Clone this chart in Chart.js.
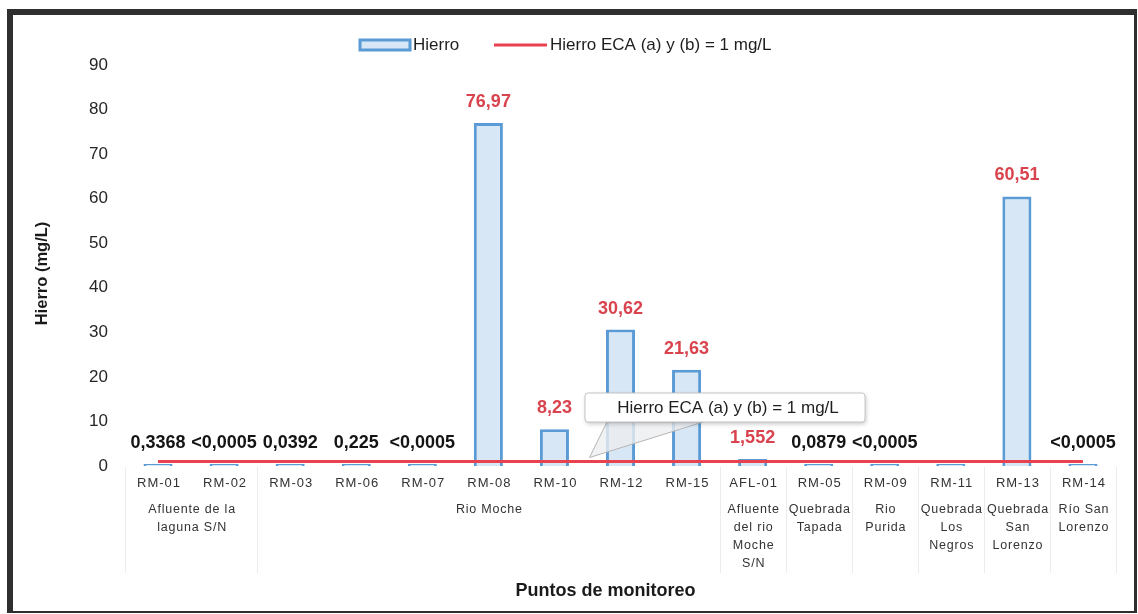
<!DOCTYPE html>
<html>
<head>
<meta charset="utf-8">
<title>Hierro</title>
<script src="https://cdn.jsdelivr.net/npm/chart.js@4/dist/chart.umd.min.js"></script>
<style>
  html, body { margin: 0; padding: 0; background: #ffffff; }
  canvas { display: block; }
</style>
</head>
<body>
<canvas id="chart" width="1138" height="614"></canvas>
<script>
// Monitoring points (in order along the x axis)
const categories = ["RM-01", "RM-02", "RM-03", "RM-06", "RM-07", "RM-08", "RM-10", "RM-12",
                    "RM-15", "AFL-01", "RM-05", "RM-09", "RM-11", "RM-13", "RM-14"];

// Iron concentration (mg/L); "<0,0005" results are plotted at the detection limit
const hierro = [0.3368, 0.0005, 0.0392, 0.225, 0.0005, 76.97, 8.23, 30.62,
                21.63, 1.552, 0.0879, 0.0005, 0.0005, 60.51, 0.0005];

// Value labels printed above each bar
const valueLabels = ["0,3368", "<0,0005", "0,0392", "0,225", "<0,0005", "76,97", "8,23", "30,62",
                     "21,63", "1,552", "0,0879", "<0,0005", "", "60,51", "<0,0005"];

// Environmental quality standard (ECA) for iron, mg/L
const eca = [1, 1, 1, 1, 1, 1, 1, 1, 1, 1, 1, 1, 1, 1, 1];
const ecaLimit = 1;

// Water body each group of points belongs to, and how many points it spans
const groupLabels = [
  ["Afluente de la", "laguna S/N"],
  ["Rio Moche"],
  ["Afluente", "del rio", "Moche", "S/N"],
  ["Quebrada", "Tapada"],
  ["Rio", "Purida"],
  ["Quebrada", "Los", "Negros"],
  ["Quebrada", "San", "Lorenzo"],
  ["Río San", "Lorenzo"]
];
const groupSpans = [2, 7, 1, 1, 1, 1, 1, 1];

// Y axis ticks
const yMin = 0, yMax = 90, yStep = 10;

const FONT = '"Liberation Sans", Arial, Helvetica, sans-serif';
const BLUE = '#5B9BD5';
const BLUE_FILL = '#D7E7F6';
const RED = '#E8414F';
const LABEL_RED = '#D9434E';

const decorations = {
  id: 'decorations',
  beforeDraw(chart) {
    const c = chart.ctx;
    c.save();
    c.fillStyle = '#ffffff';
    c.fillRect(0, 0, chart.width, chart.height);
    c.restore();
  },
  afterDatasetsDraw(chart) {
    const c = chart.ctx;
    const xs = chart.scales.x;
    const ys = chart.scales.y;
    const barMeta = chart.getDatasetMeta(0);

    // value labels above the bars
    c.save();
    c.font = 'bold 18px ' + FONT;
    c.textAlign = 'center';
    c.textBaseline = 'middle';
    barMeta.data.forEach((bar, i) => {
      const txt = valueLabels[i];
      if (!txt) return;
      c.fillStyle = hierro[i] > ecaLimit ? LABEL_RED : '#141414';
      c.fillText(txt, bar.x, bar.y - 21);
    });
    c.restore();

    // callout pointing at the ECA line
    const tipX = (xs.getPixelForValue(6) + xs.getPixelForValue(7)) / 2 + 2;
    const tipY = ys.getPixelForValue(ecaLimit) - 4;
    const bx = 585, by = 393, bw = 280, bh = 29;
    c.save();
    c.beginPath();
    c.moveTo(tipX, tipY);
    c.lineTo(bx + 22, by + bh);
    c.lineTo(bx + 118, by + bh);
    c.closePath();
    c.fillStyle = 'rgba(236,238,240,0.8)';
    c.fill();
    c.strokeStyle = '#b5b5b5';
    c.lineWidth = 1;
    c.stroke();

    c.shadowColor = 'rgba(0,0,0,0.22)';
    c.shadowBlur = 4;
    c.shadowOffsetX = 1;
    c.shadowOffsetY = 2;
    c.beginPath();
    c.roundRect(bx, by, bw, bh, 3);
    c.fillStyle = '#ffffff';
    c.fill();
    c.shadowColor = 'transparent';
    c.strokeStyle = '#c4c4c4';
    c.stroke();
    c.fillStyle = '#1e1e1e';
    c.font = '17px ' + FONT;
    c.textAlign = 'center';
    c.textBaseline = 'middle';
    c.fillText('Hierro ECA (a) y (b) = 1 mg/L', bx + bw / 2 + 3, by + bh / 2 + 1);
    c.restore();
  },
  afterDraw(chart) {
    const c = chart.ctx;
    const area = chart.chartArea;
    const xs = chart.scales.x;
    const slot = xs.getPixelForValue(1) - xs.getPixelForValue(0);

    c.save();
    // category codes
    c.fillStyle = '#333333';
    c.font = '13px ' + FONT;
    c.letterSpacing = '1px';
    c.textAlign = 'center';
    c.textBaseline = 'middle';
    categories.forEach((cat, i) => {
      c.fillText(cat, xs.getPixelForValue(i) + 1, 483);
    });

    // group separators and water body names
    c.strokeStyle = '#ececec';
    c.lineWidth = 1;
    let start = 0;
    const drawSep = (idx) => {
      const x = Math.round(xs.getPixelForValue(idx) - slot / 2) + 0.5;
      c.beginPath();
      c.moveTo(x, area.bottom + 1);
      c.lineTo(x, 573);
      c.stroke();
    };
    drawSep(0);
    c.font = '12.5px ' + FONT;
    c.letterSpacing = '0.8px';
    groupLabels.forEach((lines, g) => {
      const end = start + groupSpans[g] - 1;
      const cx = (xs.getPixelForValue(start) + xs.getPixelForValue(end)) / 2;
      lines.forEach((ln, k) => c.fillText(ln, cx + 1, 510 + k * 17.8));
      drawSep(end + 1);
      start = end + 1;
    });
    c.letterSpacing = '0px';

    // axis titles
    c.fillStyle = '#1a1a1a';
    c.font = 'bold 18px ' + FONT;
    c.fillText('Puntos de monitoreo', (area.left + area.right) / 2 - 15, 591);
    c.save();
    c.translate(42, (area.top + area.bottom) / 2 + 8);
    c.rotate(-Math.PI / 2);
    c.font = 'bold 16.5px ' + FONT;
    c.fillText('Hierro (mg/L)', 0, 0);
    c.restore();

    // legend
    c.fillStyle = BLUE_FILL;
    c.fillRect(360, 40, 50, 10);
    c.strokeStyle = BLUE;
    c.lineWidth = 3;
    c.strokeRect(360, 40, 50, 10);
    c.fillStyle = '#1e1e1e';
    c.font = '17px ' + FONT;
    c.textAlign = 'left';
    c.fillText('Hierro', 413, 45);
    c.strokeStyle = RED;
    c.lineWidth = 3;
    c.beginPath();
    c.moveTo(494, 45);
    c.lineTo(547, 45);
    c.stroke();
    c.fillText('Hierro ECA (a) y (b) = 1 mg/L', 550, 45);

    // frame
    c.fillStyle = '#2f2f2f';
    c.fillRect(7, 9, 1130, 6);
    c.fillRect(7, 9, 6, 604);
    c.fillRect(1134, 9, 3, 604);
    c.fillRect(7, 611, 1130, 2);
    c.restore();
  }
};

new Chart(document.getElementById('chart'), {
  data: {
    labels: categories,
    datasets: [
      {
        type: 'bar',
        label: 'Hierro',
        data: hierro,
        backgroundColor: BLUE_FILL,
        borderColor: BLUE,
        borderWidth: 3,
        minBarLength: 2,
        barPercentage: 0.44,
        categoryPercentage: 1,
        order: 2
      },
      {
        type: 'line',
        label: 'Hierro ECA (a) y (b) = 1 mg/L',
        data: eca,
        borderColor: RED,
        borderWidth: 3,
        pointRadius: 0,
        fill: false,
        order: 1
      }
    ]
  },
  options: {
    responsive: false,
    animation: false,
    events: [],
    layout: { padding: { left: 0, right: 22, top: 65, bottom: 0 } },
    plugins: {
      legend: { display: false },
      tooltip: { enabled: false }
    },
    scales: {
      x: {
        type: 'category',
        offset: true,
        grid: { display: false, drawTicks: false },
        border: { display: false },
        ticks: { display: false },
        afterFit(scale) { scale.height = 148; }
      },
      y: {
        min: yMin,
        max: yMax,
        grid: { display: false, drawTicks: false },
        border: { display: false },
        ticks: {
          stepSize: yStep,
          padding: 17,
          color: '#262626',
          font: { family: FONT, size: 17 }
        },
        afterFit(scale) { scale.width = 125; }
      }
    }
  },
  plugins: [decorations]
});
</script>
</body>
</html>
